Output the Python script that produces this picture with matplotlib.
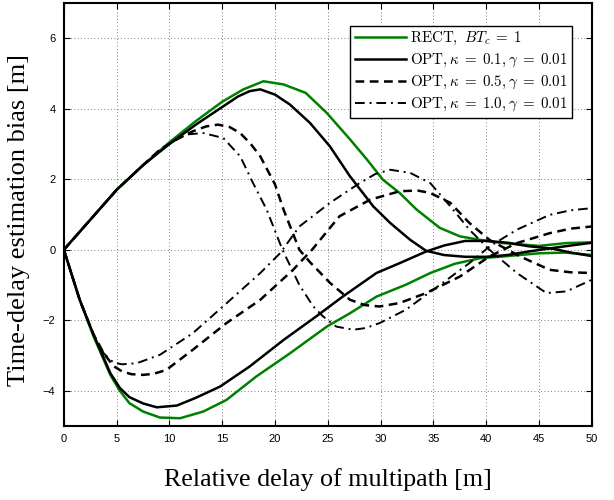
import matplotlib
matplotlib.use("Agg")
import matplotlib.pyplot as plt

plt.rcParams['mathtext.fontset'] = 'cm'

# ---- data ----
rect_pos_x = [0, 2.5, 5, 7.5, 10, 12.5, 15, 17, 18.9, 20.8, 22.9, 24.9, 27.1, 28.7, 30.2, 31.8, 33.4, 35.6, 37.5, 39.4, 41.6, 45, 47.6, 50]
rect_pos_y = [0, 0.85, 1.7, 2.4, 3.05, 3.65, 4.2, 4.55, 4.78, 4.69, 4.45, 3.88, 3.13, 2.56, 1.99, 1.61, 1.14, 0.62, 0.38, 0.28, 0.19, 0.11, 0.19, 0.21]
rect_neg_x = [0, 1.5, 2.8, 4.4, 5.3, 6.2, 7.5, 9.1, 11, 13.2, 15.4, 18.2, 21.4, 24.9, 27.1, 29.6, 32.4, 34.7, 37, 39.4, 41.6, 45, 47.5, 50]
rect_neg_y = [0, -1.42, -2.45, -3.55, -4.0, -4.35, -4.59, -4.76, -4.78, -4.59, -4.26, -3.6, -2.94, -2.18, -1.8, -1.33, -0.99, -0.66, -0.4, -0.24, -0.19, -0.1, -0.08, -0.15]

opt01_pos_x = [0, 2.5, 5, 7.5, 10, 12.5, 15, 16.5, 17.6, 18.6, 20, 21.4, 23.3, 25.2, 27.1, 29.3, 30.9, 32.8, 34.3, 36, 38, 40, 42, 44, 46.3, 48, 50]
opt01_pos_y = [0, 0.85, 1.7, 2.4, 3.0, 3.55, 4.05, 4.35, 4.5, 4.55, 4.4, 4.12, 3.6, 2.93, 2.08, 1.23, 0.76, 0.28, -0.03, -0.15, -0.2, -0.2, -0.15, -0.05, 0.05, 0.12, 0.2]
opt01_neg_x = [0, 1.5, 2.8, 4.4, 5.3, 6.2, 7.5, 8.8, 10.7, 12.5, 14.8, 17.6, 20.8, 23.9, 26.4, 29.6, 31.8, 34.3, 36, 38, 40, 42, 44, 46.3, 48, 50]
opt01_neg_y = [0, -1.42, -2.4, -3.5, -3.92, -4.18, -4.36, -4.47, -4.42, -4.2, -3.88, -3.31, -2.56, -1.89, -1.33, -0.66, -0.38, -0.05, 0.12, 0.25, 0.25, 0.2, 0.1, 0.03, -0.08, -0.18]

opt05_pos_x = [0, 2.5, 5, 7.5, 9.1, 10.5, 12.2, 13.5, 14.6, 15.7, 16.7, 17.7, 18.6, 20.0, 20.8, 22.3, 23.3, 25.2, 27.1, 28.5, 29.9, 31.8, 34.3, 37.5, 40.3, 42.9, 46, 48, 50]
opt05_pos_y = [0, 0.85, 1.7, 2.4, 2.84, 3.1, 3.36, 3.5, 3.55, 3.48, 3.31, 3.0, 2.65, 1.85, 1.14, 0.0, -0.35, -0.94, -1.42, -1.57, -1.61, -1.51, -1.23, -0.76, -0.19, 0.19, 0.47, 0.6, 0.66]
opt05_neg_x = [0, 1.5, 2.8, 3.8, 4.7, 5.5, 6.4, 7.5, 8.5, 9.7, 12.2, 15.4, 18.6, 21.7, 23.5, 26.1, 29, 31.8, 33.5, 34.7, 36.6, 38.4, 40.3, 43.2, 46, 48, 50]
opt05_neg_y = [0, -1.42, -2.4, -2.95, -3.3, -3.45, -3.53, -3.55, -3.52, -3.41, -2.84, -2.08, -1.42, -0.57, 0.0, 0.95, 1.42, 1.66, 1.68, 1.61, 1.33, 0.76, 0.28, -0.19, -0.57, -0.64, -0.66]

opt10_pos_x = [0, 2.5, 5, 7.5, 9.1, 10.5, 11.6, 13.2, 15.1, 16.7, 17.9, 19.2, 20.7, 22.3, 23.6, 24.5, 25.8, 27.4, 28.6, 29.9, 32.4, 34.3, 35.6, 38.4, 40.3, 42.9, 46, 48, 50]
opt10_pos_y = [0, 0.85, 1.7, 2.4, 2.84, 3.1, 3.27, 3.31, 3.17, 2.65, 1.9, 1.14, 0.0, -1.0, -1.6, -1.88, -2.18, -2.27, -2.22, -2.08, -1.7, -1.28, -1.0, -0.38, 0.09, 0.57, 0.99, 1.12, 1.18]
opt10_neg_x = [0, 1.5, 2.8, 3.8, 4.7, 5.5, 6.9, 9.1, 12.2, 15.4, 18.6, 20.5, 22.3, 25.2, 28, 29.5, 30.9, 32.8, 34.7, 36.6, 38.4, 40.3, 42.9, 45.7, 47.6, 50]
opt10_neg_y = [0, -1.42, -2.4, -2.95, -3.2, -3.25, -3.22, -2.98, -2.37, -1.52, -0.66, -0.09, 0.66, 1.33, 1.89, 2.15, 2.27, 2.18, 1.89, 1.23, 0.57, 0.0, -0.66, -1.23, -1.18, -0.85]

labels = [r"$\mathrm{RECT,}\ BT_c\;=\;1$",
          r"$\mathrm{OPT,}\kappa\;=\;0.1,\gamma\;=\;0.01$",
          r"$\mathrm{OPT,}\kappa\;=\;0.5,\gamma\;=\;0.01$",
          r"$\mathrm{OPT,}\kappa\;=\;1.0,\gamma\;=\;0.01$"]
x_ticks = [0, 5, 10, 15, 20, 25, 30, 35, 40, 45, 50]
y_ticks = [-4, -2, 0, 2, 4, 6]

# ---- figure ----
fig = plt.figure(figsize=(6.14, 5.0), dpi=100)
ax = fig.add_axes([0.104, 0.148, 0.860, 0.846])

green = '#008000'
lw = 1.8
dash = (0, (3.5, 2.2))
dashdot = (0, (5, 2.5, 1, 2.5))

l1, = ax.plot(rect_pos_x, rect_pos_y, color=green, lw=lw, label=labels[0])
ax.plot(rect_neg_x, rect_neg_y, color=green, lw=lw)
l2, = ax.plot(opt01_pos_x, opt01_pos_y, color='black', lw=lw, label=labels[1])
ax.plot(opt01_neg_x, opt01_neg_y, color='black', lw=lw)
l3, = ax.plot(opt05_pos_x, opt05_pos_y, color='black', lw=lw, ls=dash, label=labels[2])
ax.plot(opt05_neg_x, opt05_neg_y, color='black', lw=lw, ls=dash)
l4, = ax.plot(opt10_pos_x, opt10_pos_y, color='black', lw=1.4, ls=dashdot, label=labels[3])
ax.plot(opt10_neg_x, opt10_neg_y, color='black', lw=1.4, ls=dashdot)

ax.set_xlim(0, 50)
ax.set_ylim(-5, 7)
ax.set_xticks(x_ticks)
ax.set_yticks(y_ticks)
ax.set_yticklabels([f"{v}".replace('-', '\u2212') for v in y_ticks])
ax.tick_params(direction='in', length=4, width=0.8, top=True, right=True,
               labelsize=8, pad=6)
for lab in ax.get_xticklabels() + ax.get_yticklabels():
    lab.set_family('Liberation Sans')
ax.grid(True, ls=(0, (1, 3)), color='#555555', lw=0.6)
for s in ax.spines.values():
    s.set_linewidth(1.5)

ax.set_xlabel("Relative delay of multipath [m]", family='Liberation Serif',
              fontsize=18.7, labelpad=17)
ax.set_ylabel("Time-delay estimation bias [m]", family='Liberation Serif',
              fontsize=19)
ax.yaxis.set_label_coords(-0.065, 0.487)

leg = ax.legend(handles=[l1, l2, l3, l4], loc='upper right',
                bbox_to_anchor=(0.963, 0.946), fontsize=10.8, fancybox=False,
                framealpha=1, edgecolor='black', handlelength=3.4,
                borderpad=0.3, labelspacing=0.3, handletextpad=0.3,
                borderaxespad=0)
leg.get_frame().set_linewidth(1.0)

fig.savefig("out.png", dpi=100)
